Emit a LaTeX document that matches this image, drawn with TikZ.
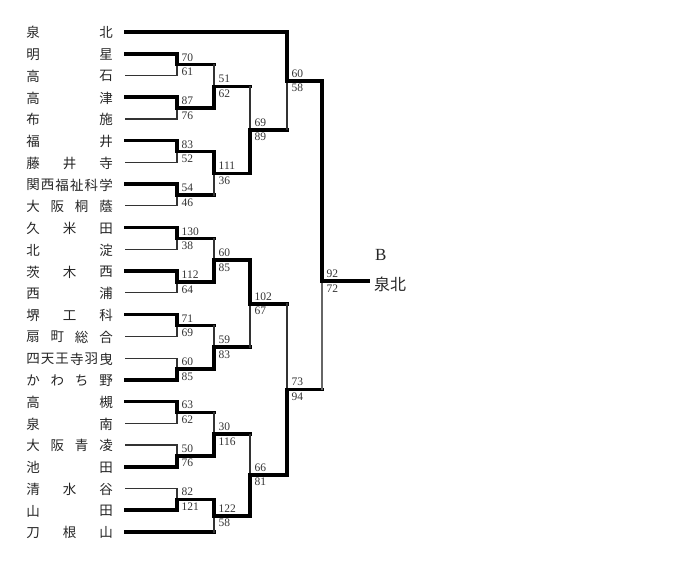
\documentclass[tikz,border=0pt]{standalone}
\usepackage{fontspec}
\setmainfont{Liberation Serif}
\newfontfamily\jp{Noto Sans CJK JP}
\begin{document}
\begin{tikzpicture}[x=1pt,y=-1pt,
  win/.style={line width=3.6pt,line cap=rect,black},
  lose/.style={line width=1.1pt,line cap=rect,black!80},
  score/.style={inner sep=0pt,text=black!80,font=\fontsize{11.5}{13}\selectfont},
  nm/.style={inner sep=0pt,text=black!85,font=\jp\fontsize{13.5}{15}\selectfont}]
\useasboundingbox (0,0) rectangle (700,567);
\newcommand\getY[1]{\csname YY#1\endcsname}
% team: #1 index, #2 number of chars, #3 chars, #4 win(1)/lose(0), #5 x end
\newcommand\team[5]{%
  \pgfmathsetmacro\Ty{32+21.739*#1}%
  \expandafter\xdef\csname YYt#1\endcsname{\Ty}%
  \coordinate (t#1-s) at (126,\Ty);
  \coordinate (t#1) at (#5,\Ty);
  \ifnum#4=1 \draw[win] (t#1-s) -- (t#1); \else \draw[lose] (t#1-s) -- (t#1); \fi
  \foreach \c [count=\k from 0] in {#3} {\node[nm] (t#1-n\k) at ({33+73*\k/(#2-1)},\Ty+0.8) {\c};}
}
% game: #1 name, #2 upper, #3 lower, #4 x vertical, #5 x next, #6 winner, #7 #8 scores
\newcommand\game[8]{%
  \pgfmathsetmacro\Gu{\getY{#2}}%
  \pgfmathsetmacro\Gl{\getY{#3}}%
  \pgfmathsetmacro\Gm{(\Gu+\Gl)/2}%
  \expandafter\xdef\csname YY#1\endcsname{\Gm}%
  \coordinate (#1-u) at (#4,\Gu);
  \coordinate (#1-l) at (#4,\Gl);
  \coordinate (#1-c) at (#4,\Gm);
  \coordinate (#1) at (#5,\Gm);
  \ifnum#6=1
    \draw[lose] (#1-l) -- (#1-c);
    \draw[win] (#1-u) -- (#1-c) -- (#1);
  \else
    \draw[lose] (#1-u) -- (#1-c);
    \draw[win] (#1-l) -- (#1-c) -- (#1);
  \fi
  \node[score,anchor=south west] (#1-a) at ([shift={(4.5,-3.2)}]#1-c) {#7};
  \node[score,anchor=north west] (#1-b) at ([shift={(4.5,3.2)}]#1-c) {#8};
}
% teams
\team{0}{2}{泉,北}{1}{287}
\team{1}{2}{明,星}{1}{177}
\team{2}{2}{高,石}{0}{177}
\team{3}{2}{高,津}{1}{177}
\team{4}{2}{布,施}{0}{177}
\team{5}{2}{福,井}{1}{177}
\team{6}{3}{藤,井,寺}{0}{177}
\team{7}{6}{関,西,福,祉,科,学}{1}{177}
\team{8}{4}{大,阪,桐,蔭}{0}{177}
\team{9}{3}{久,米,田}{1}{177}
\team{10}{2}{北,淀}{0}{177}
\team{11}{3}{茨,木,西}{1}{177}
\team{12}{2}{西,浦}{0}{177}
\team{13}{3}{堺,工,科}{1}{177}
\team{14}{4}{扇,町,総,合}{0}{177}
\team{15}{6}{四,天,王,寺,羽,曳}{0}{177}
\team{16}{4}{か,わ,ち,野}{1}{177}
\team{17}{2}{高,槻}{1}{177}
\team{18}{2}{泉,南}{0}{177}
\team{19}{4}{大,阪,青,凌}{0}{177}
\team{20}{2}{池,田}{1}{177}
\team{21}{3}{清,水,谷}{0}{177}
\team{22}{2}{山,田}{1}{177}
\team{23}{3}{刀,根,山}{1}{214}
% round 1
\game{m1}{t1}{t2}{177}{214}{1}{70}{61}
\game{m2}{t3}{t4}{177}{214}{1}{87}{76}
\game{m3}{t5}{t6}{177}{214}{1}{83}{52}
\game{m4}{t7}{t8}{177}{214}{1}{54}{46}
\game{m5}{t9}{t10}{177}{214}{1}{130}{38}
\game{m6}{t11}{t12}{177}{214}{1}{112}{64}
\game{m7}{t13}{t14}{177}{214}{1}{71}{69}
\game{m8}{t15}{t16}{177}{214}{2}{60}{85}
\game{m9}{t17}{t18}{177}{214}{1}{63}{62}
\game{m10}{t19}{t20}{177}{214}{2}{50}{76}
\game{m11}{t21}{t22}{177}{214}{2}{82}{121}
% round 2
\game{n1}{m1}{m2}{214}{250}{2}{51}{62}
\game{n2}{m3}{m4}{214}{250}{1}{111}{36}
\game{n3}{m5}{m6}{214}{250}{2}{60}{85}
\game{n4}{m7}{m8}{214}{250}{2}{59}{83}
\game{n5}{m9}{m10}{214}{250}{2}{30}{116}
\game{n6}{m11}{t23}{214}{250}{1}{122}{58}
% round 3
\game{p1}{n1}{n2}{250}{287}{2}{69}{89}
\game{p2}{n3}{n4}{250}{287}{1}{102}{67}
\game{p3}{n5}{n6}{250}{287}{2}{66}{81}
% round 4
\game{q1}{t0}{p1}{287}{322}{1}{60}{58}
\game{q2}{p2}{p3}{287}{322}{2}{73}{94}
% final
\coordinate (f-c) at (322,281);
\coordinate (f) at (368,281);
\draw[lose,black!60] (q2) -- (f-c);
\draw[win] (q1) -- (f-c) -- (f);
\node[score,anchor=south west] (f-a) at ([shift={(4.5,-3.2)}]f-c) {92};
\node[score,anchor=north west] (f-b) at ([shift={(4.5,3.2)}]f-c) {72};
\node[inner sep=0pt,anchor=west,text=black!85,font=\fontsize{17}{19}\selectfont] (blk) at (375,255) {B};
\node[inner sep=0pt,anchor=west,text=black!85,font=\jp\fontsize{16}{18}\selectfont] (champ) at (374,284) {泉北};
\end{tikzpicture}
\end{document}
